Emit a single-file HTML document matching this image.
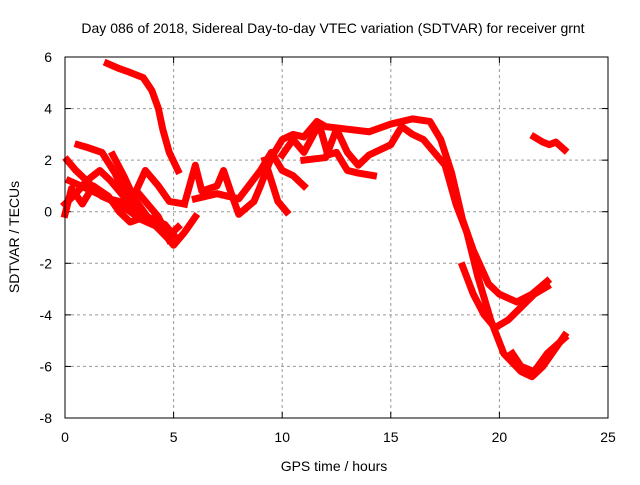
<!DOCTYPE html>
<html><head><meta charset="utf-8"><style>
body{margin:0;background:#fff;}
svg text{font-family:"Liberation Sans",sans-serif;font-size:14px;fill:#000;}
</style></head><body>
<svg id="chart" width="640" height="480">
<text x="333" y="33" text-anchor="middle">Day 086 of 2018, Sidereal Day-to-day VTEC variation (SDTVAR) for receiver grnt</text>
<text x="334" y="471" text-anchor="middle">GPS time / hours</text>
<text transform="translate(19,237) rotate(-90)" text-anchor="middle">SDTVAR / TECUs</text>
<g id="grid"></g><g id="marks"></g>
<rect x="65" y="57" width="543" height="361" fill="none" stroke="#000"/>
</svg>
<script>
const xTicks=[0,5,10,15,20,25];
const yTicks=[-8,-6,-4,-2,0,2,4,6];
const sTop=[[1.95,5.75],[2.5,5.55],[3,5.4],[3.6,5.2],[4,4.7],[4.3,4.0],[4.5,3.2],[4.8,2.3],[5.2,1.6]];
const sA=[[0.1,2.0],[0.5,1.6],[1,1.2],[1.7,0.6],[2.5,0.3],[3.5,-0.3],[4.3,-0.6],[5,-1.3],[5.5,-0.8],[6,-0.2]];
const sB=[[0.6,2.6],[1,2.5],[1.7,2.3],[2.3,1.5],[2.8,0.6],[3.3,0],[4,-0.4],[4.7,-1.0],[5.2,-0.6]];
const sC=[[0,0.3],[0.5,0.7],[1,1.2],[1.6,1.6],[2.1,1.2],[2.8,0.5],[3.3,0.8],[3.8,0.3],[4.3,-0.2],[4.8,-1.1]];
const sD=[[0,-0.1],[0.3,0.9],[0.8,0.3],[1.3,1.0],[2,0.6],[2.5,0.0],[3,-0.4],[3.7,-0.2]];
const sE=[[2.2,2.2],[2.7,1.4],[3.2,0.5],[3.8,-0.2],[4.6,-0.5],[5,-0.9]];
const sF=[[0.2,1.2],[1,0.9],[2,0.5],[3,0.3],[3.7,1.6],[4.3,1.0],[4.8,0.4],[5.5,0.3]];
const sG=[[5.5,0.3],[6,1.8],[6.3,0.8],[7,1.0],[7.3,1.6],[7.7,0.6],[8,-0.1],[8.7,0.4],[9,1.0],[9.5,2.1],[10,2.8],[10.5,3.0],[11,2.9],[11.6,3.5],[12,3.3],[13,3.2],[14,3.1],[15,3.4],[16,3.6],[16.8,3.5],[17.3,2.8],[17.8,1.5],[18.3,-0.3],[18.8,-1.5],[19.5,-2.8],[20,-3.2],[20.8,-3.5],[21.5,-3.2],[22.2,-2.7]];
const sH=[[6,0.5],[7,0.7],[8,0.5],[9,1.6],[9.5,2.3],[10,1.6],[10.5,1.4],[11,1.0]];
const sI=[[9.2,2.0],[9.5,1.2],[9.8,0.4],[10.2,0]];
const sJ=[[10,2.2],[10.5,2.8],[11,2.3],[11.7,3.4],[12.1,2.2],[12.5,2.3],[13,1.6],[13.5,1.5],[14.2,1.4]];
const sK=[[11,2.0],[12,2.1],[12.5,3.2],[13,2.3],[13.5,1.8],[14,2.2],[15,2.6],[15.5,3.3],[16,3.0],[16.5,2.8],[17,2.3],[17.5,1.8],[18,0.3],[18.5,-0.8],[19,-2.5],[19.6,-4.2],[20.2,-5.5],[21,-6.2],[21.5,-6.4],[22,-6],[22.5,-5.4],[23,-4.8]];
const sL=[[18.3,-2.1],[18.8,-3.2],[19.3,-4],[19.8,-4.5],[20.4,-4.2],[21,-3.7],[21.6,-3.2],[22.2,-2.9]];
const sM=[[20.6,-5.5],[21,-6],[21.6,-6.2],[22.2,-5.5],[23,-4.9]];
const sN=[[21.6,2.9],[22,2.7],[22.3,2.6],[22.6,2.7],[23,2.4]];
const series=[sTop,sA,sB,sC,sD,sE,sF,sG,sH,sI,sJ,sK,sL,sM,sN];
const X=h=>65+h*543/25;
const Y=v=>57+(6-v)*361/14;
const NS='http://www.w3.org/2000/svg';
const grid=document.getElementById('grid'),marks=document.getElementById('marks');
function mk(t,a,p){const e=document.createElementNS(NS,t);for(const k in a)e.setAttribute(k,a[k]);p.appendChild(e);return e;}
xTicks.forEach(t=>{const x=X(t);
 if(t>0&&t<25){const l=mk('line',{x1:x,x2:x,y1:57,y2:418,stroke:'#999','stroke-dasharray':'3,3'},grid);
 
 }
 mk('line',{x1:x,x2:x,y1:418,y2:412,stroke:'#000'},grid);mk('line',{x1:x,x2:x,y1:57,y2:63,stroke:'#000'},grid);
 const tx=mk('text',{x:x,y:442,'text-anchor':'middle'},grid);tx.textContent=t;
 
 });
yTicks.forEach(t=>{const y=Y(t);
 if(t>-8&&t<6){const l=mk('line',{x1:65,x2:608,y1:y,y2:y,stroke:'#999','stroke-dasharray':'3,3'},grid);
 
 }
 mk('line',{x1:65,x2:71,y1:y,y2:y,stroke:'#000'},grid);mk('line',{x1:608,x2:602,y1:y,y2:y,stroke:'#000'},grid);
 const tx=mk('text',{x:52,y:y+5,'text-anchor':'end'},grid);tx.textContent=t;
 
 });
series.forEach(s=>{const p=mk('polyline',{points:s.map(d=>X(d[0])+','+Y(d[1])).join(' '),fill:'none',stroke:'#ff0000','stroke-width':7,'stroke-linejoin':'round','stroke-linecap':'square'},marks);
 
 });
</script>
</body></html>
